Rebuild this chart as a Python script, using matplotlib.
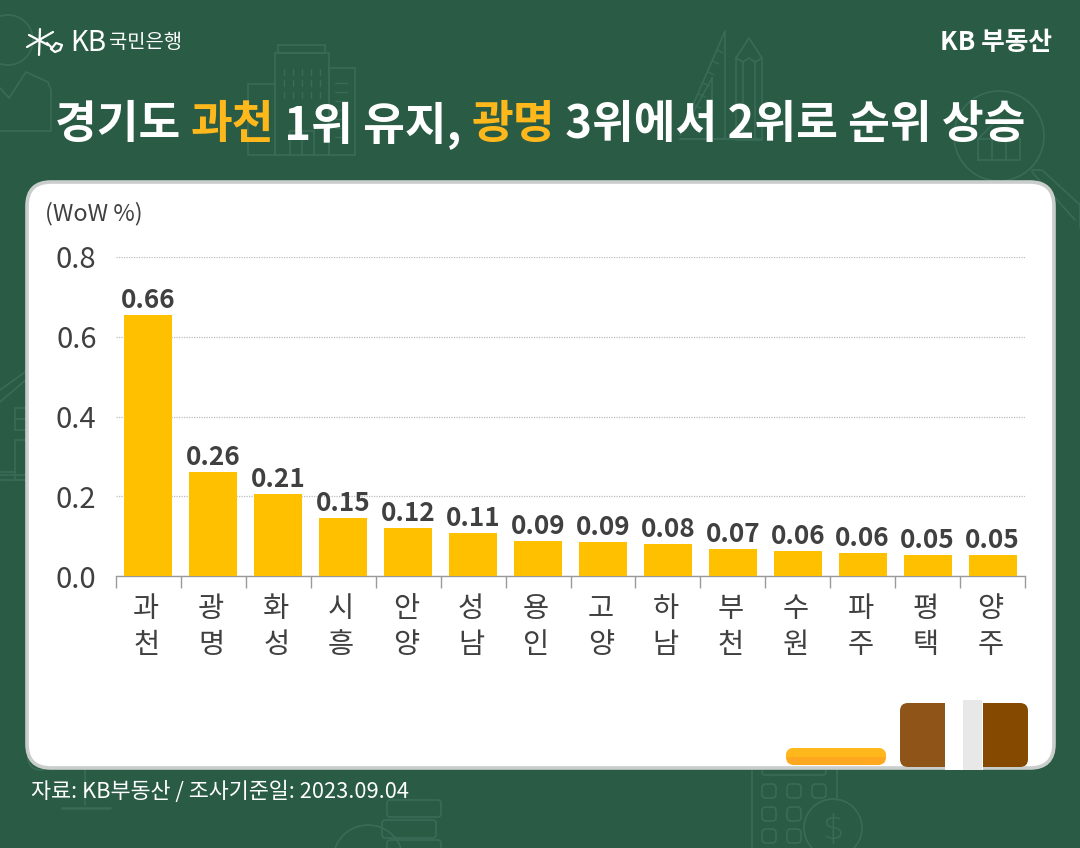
import matplotlib
matplotlib.use("Agg")
import matplotlib.pyplot as plt
from matplotlib.patches import FancyBboxPatch, Rectangle, Circle
from matplotlib.lines import Line2D

FONT = ['Noto Sans CJK KR', 'DejaVu Sans']
plt.rcParams['font.family'] = FONT

# ---- data ----
cities = ['과\n천', '광\n명', '화\n성', '시\n흥', '안\n양', '성\n남', '용\n인', '고\n양', '하\n남', '부\n천', '수\n원', '파\n주', '평\n택', '양\n주']
values = [0.655, 0.261, 0.206, 0.146, 0.120, 0.108, 0.088, 0.086, 0.081, 0.067, 0.063, 0.058, 0.053, 0.053]
labels = ['0.66', '0.26', '0.21', '0.15', '0.12', '0.11', '0.09', '0.09', '0.08', '0.07', '0.06', '0.06', '0.05', '0.05']
yticks = [0.0, 0.2, 0.4, 0.6, 0.8]
title_parts = [('경기도 ', 'w'), ('과천', 'y'), (' 1위 유지, ', 'w'), ('광명', 'y'), (' 3위에서 2위로 순위 상승', 'w')]

W, H = 1080, 848
BG = '#2A5C45'
DECO = '#3A6B56'
fig = plt.figure(figsize=(W / 100, H / 100), dpi=100, facecolor=BG)

# pixel-space overlay (y down)
bg = fig.add_axes([0, 0, 1, 1], zorder=0)
bg.set_xlim(0, W); bg.set_ylim(H, 0); bg.axis('off')

def line(xs, ys, c=DECO, lw=1.2, z=1):
    bg.add_line(Line2D(xs, ys, color=c, lw=lw, zorder=z, solid_capstyle='round'))
def rect(x, y, w, h, r=0, c=DECO, lw=1.2, fc='none', z=1):
    p = FancyBboxPatch((x + r, y + r), w - 2 * r, h - 2 * r, boxstyle=f'round,pad={r},rounding_size={r}',
                       ec=c, fc=fc, lw=lw, zorder=z)
    bg.add_patch(p)
    return p
def circ(x, y, r, c=DECO, lw=1.2):
    bg.add_patch(Circle((x, y), r, ec=c, fc='none', lw=lw, zorder=1))

# decorative line icons: top-left person + chart
circ(8, 40, 25)
line([0, 9, 26, 48, 51, 51, 0], [88, 98, 72, 82, 90, 131, 131])
# buildings
rect(248, 84, 27, 71); rect(275, 53, 54, 102); rect(329, 68, 26, 87); rect(278, 45, 47, 8)
for x in [284, 293, 302, 311, 320]:
    for y0 in [69, 80, 92]:
        line([x, x], [y0, y0 + 6], lw=1)
for y in [83, 92, 101, 110, 119, 128, 137]:
    line([335, 347], [y, y], lw=1)
line([290, 290], [131, 155]); line([302, 302], [131, 155]); line([314, 314], [131, 155]); line([290, 314], [131, 131])
# ruler + pencil
line([680, 725, 725, 680], [135, 31, 139, 139]); line([712, 712, 690, 712], [78, 118, 118, 78])
for i in range(7):
    y = 50 + i * 11
    line([717 - i * 4.5, 723 - i * 4.5], [y, y + 3], lw=1)
line([736, 749, 762, 762, 736, 736], [58, 38, 58, 140, 140, 58])
line([736, 743, 749, 755, 762], [58, 62, 58, 62, 58])
line([743, 743], [62, 138]); line([755, 755], [62, 138]); line([680, 762], [139, 139])
# magnifier + house
circ(999, 136, 45)
line([978, 978, 1020, 1020, 978], [160, 139, 139, 160, 160]); line([992, 992], [139, 160]); line([1006, 1006], [139, 160])
line([978, 999, 1020], [139, 118, 139])
line([1032, 1042, 1080, 1080], [170, 170, 205, 228]); line([1032, 1075], [172, 220])
# left house
line([0, 28], [390, 370]); line([0, 28], [402, 378])
rect(15, 408, 13, 22); line([15, 28], [419, 419]); rect(15, 440, 13, 40)
line([0, 28], [475, 475]); line([0, 15], [472, 472]); line([0, 28], [480, 480])
# bottom icons
line([85, 85], [770, 805]); line([62, 110], [808, 808], lw=1.8); circ(40, 758, 12)
rect(387, 800, 54, 17, 3); rect(382, 820, 54, 18, 3); rect(387, 840, 54, 14, 3)
circ(368, 860, 35); circ(366, 860, 10)
line([752, 752], [770, 848]); line([837, 837], [770, 800])
rect(762, 768, 64, 7, 3)
for i, xx in enumerate([762, 787, 812]):
    for j, yy in enumerate([784, 807, 829]):
        if not (i == 2 and j > 0):
            rect(xx, yy, 14, 14, 4)
circ(833, 828, 29)
bg.text(833, 829, '$', color=DECO, fontsize=24, ha='center', va='center', fontweight='light', family='DejaVu Sans')

# white panel
rect(27, 182, 1027, 586, 24, c='#C9CDCB', lw=2.6, fc='white', z=2)

# bottom-right decorative shapes on the panel
pill = rect(786, 748, 100, 17, 8, c='none', lw=0, fc='#FFA81F', z=3)
top = Rectangle((786, 748), 100, 9, fc='#FFB81C', lw=0, zorder=3)
bg.add_patch(top)
top.set_clip_path(pill)
rect(900, 703, 60, 64, 8, c='none', lw=0, fc='#8F5418', z=3)
rect(968, 703, 60, 64, 8, c='none', lw=0, fc='#854A00', z=3)
bg.add_patch(Rectangle((945, 700), 38, 70, fc='white', lw=0, zorder=3))
bg.add_patch(Rectangle((963, 700), 19, 70, fc='#E8E8E8', lw=0, zorder=3))

# chart axes: x 116..1025, y 0.0 at px 576, 0.8 at px 257
ax = fig.add_axes([116 / W, 1 - 576 / H, (1025 - 116) / W, (576 - 257) / H], zorder=4)
ax.patch.set_alpha(0)
xs = list(range(len(cities)))
ax.bar(xs, values, width=0.74, color='#FFC000', zorder=3)
ax.set_xlim(-0.5, len(cities) - 0.5)
ax.set_ylim(0, 0.8)
ax.set_yticks(yticks)
ax.set_yticklabels([f'{v:.1f}' for v in yticks], fontsize=21, color='#404040')
ax.tick_params(axis='y', length=0, pad=14)
ax.yaxis.grid(True, color='#BDBDBD', lw=0.9, ls=(0, (1, 1)), zorder=1)
ax.set_axisbelow(True)
ax.set_xticks([i - 0.5 for i in range(len(cities) + 1)])
ax.set_xticklabels([])
ax.tick_params(axis='x', length=8.6, width=1, color='#9A9A9A')
for s in ['top', 'left', 'right']:
    ax.spines[s].set_visible(False)
ax.spines['bottom'].set_color('#9A9A9A')
ax.spines['bottom'].set_linewidth(1)
for x, v, l in zip(xs, values, labels):
    ax.annotate(l, (x, v), xytext=(0, 0.8), textcoords='offset points', ha='center', va='bottom',
                fontsize=18.8, fontweight='bold', color='#404040')
for x, c in zip(xs, cities):
    ax.annotate(c, (x, 0), xytext=(-1.5, -13.3), textcoords='offset points', ha='center', va='top',
                fontsize=20.5, color='#404040', linespacing=1.22)

# texts
bg.text(45, 214, '(WoW %)', fontsize=16.8, color='#404040', va='center', zorder=5)
bg.text(70, 43, 'KB', fontsize=20, color='white', va='center', fontweight='light', zorder=5)
bg.text(109, 43, '국민은행', fontsize=14.3, color='white', va='center', fontweight='medium', zorder=5)
bg.text(1052, 42, 'KB 부동산', fontsize=18.5, color='white', va='center', ha='right', fontweight='bold', zorder=5)
bg.text(31, 791.5, '자료: KB부동산 / 조사기준일: 2023.09.04', fontsize=15.7, color='white', va='center', zorder=5)

# KB star logo
for (x0, y0, x1, y1) in [(27, 47, 53, 32), (29, 35, 48, 45), (40, 29, 39, 55)]:
    line([x0, x1], [y0, y1], c='white', lw=1.6, z=5)
line([47, 52, 56, 62, 60, 55, 51], [43, 48, 43, 45, 50, 52, 49], c='white', lw=1.6, z=5)

# title laid out piece by piece
colors = {'w': 'white', 'y': '#FFB81C'}
TS = 32.7
r = fig.canvas.get_renderer()
tx = 55
for s, k in title_parts:
    bg.text(tx, 125, s, fontsize=TS, fontweight='bold', color=colors[k], va='center', ha='left', zorder=5)
    ph = bg.text(0, 0, 'ㅣ' + s + 'ㅣ', fontsize=TS, fontweight='bold', alpha=0)
    ph0 = bg.text(0, 0, 'ㅣㅣ', fontsize=TS, fontweight='bold', alpha=0)
    tx += ph.get_window_extent(r).width - ph0.get_window_extent(r).width
    ph.remove(); ph0.remove()

fig.savefig('out.png', dpi=100, facecolor=BG)
